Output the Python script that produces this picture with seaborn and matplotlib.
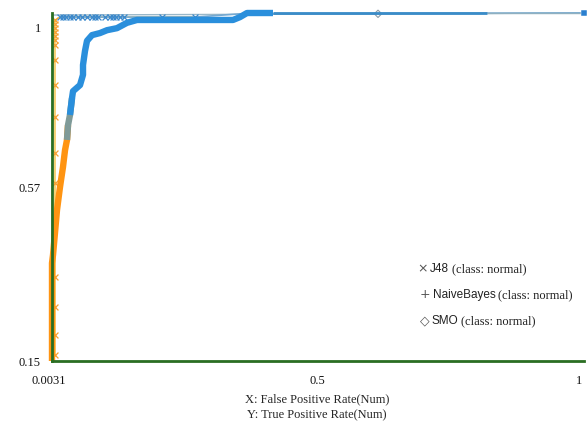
import numpy as np
import pandas as pd
import matplotlib
matplotlib.use("Agg")
import matplotlib.pyplot as plt
from matplotlib.transforms import ScaledTranslation
import seaborn as sns

# ---------------- data ----------------
# NaiveBayes ROC curve
nb_fpr = [0.0031, 0.0031, 0.0050, 0.0087, 0.0125, 0.0181, 0.0237, 0.0275, 0.0312, 0.0331,
          0.0368, 0.0406, 0.0425, 0.0556, 0.0612, 0.0612, 0.0649, 0.0687, 0.0781, 0.0930,
          0.1062, 0.1249, 0.1436, 0.1624, 0.3423, 0.3554, 0.3685, 0.4172, 0.8182, 1.0]
nb_tpr = [0.150, 0.389, 0.409, 0.463, 0.519, 0.575, 0.624, 0.665, 0.690, 0.726,
          0.751, 0.792, 0.809, 0.824, 0.849, 0.873, 0.907, 0.932, 0.946, 0.951,
          0.958, 0.963, 0.976, 0.983, 0.983, 0.990, 1.000, 1.000, 1.000, 1.000]

# J48 ROC curve
j48_fpr = [0.0031, 0.0087, 0.0087, 0.0087, 0.0087, 0.0087, 0.0087, 0.0087, 0.0087, 0.0087,
           0.0087, 0.0087, 0.0087, 0.0087, 0.0087, 0.0087, 0.0087, 0.0181, 0.0237, 0.0293,
           0.0368, 0.0425, 0.0518, 0.0593, 0.0687, 0.0781, 0.0837, 0.0893, 0.1024, 0.1118,
           0.1174, 0.1230, 0.1305, 0.1380, 0.2092, 0.2711, 0.3554, 1.0]
j48_tpr = [0.150, 0.165, 0.214, 0.282, 0.355, 0.585, 0.658, 0.746, 0.824, 0.885,
           0.922, 0.934, 0.944, 0.954, 0.963, 0.973, 0.983, 0.990, 0.990, 0.990,
           0.990, 0.990, 0.990, 0.990, 0.990, 0.990, 0.990, 0.990, 0.990, 0.990,
           0.990, 0.990, 0.990, 0.990, 0.990, 0.990, 0.998, 1.000]

# SMO ROC curve
smo_fpr = [0.0031, 0.0040, 0.614, 1.0]
smo_tpr = [0.150, 0.995, 0.998, 1.000]

x_ticks = [0.0031, 0.5, 1.0]
x_tick_labels = ["0.0031", "0.5", "1"]
y_ticks = [0.15, 0.575, 1.0]
y_tick_labels = ["0.15", "0.57", "1"]

legend_names = ["J48", "NaiveBayes", "SMO"]
legend_marks = ["\u00d7", "+", "\u25c7"]
legend_suffix = "(class: normal)"
x_title = "X: False Positive Rate(Num)"
y_title = "Y: True Positive Rate(Num)"

# ---------------- style ----------------
sns.set_style("white")
plt.rcParams["font.family"] = ["Liberation Serif", "DejaVu Serif"]

BLUE = "#2a8fdc"
ORANGE = "#ff9412"
BLEND = "#7f9a98"
LIGHTBLUE = "#74a9d2"
GREEN_D = "#2a6e22"
GREEN_L = "#66cc44"

fig = plt.figure(figsize=(5.88, 4.25), dpi=100)
ax = fig.add_axes([52 / 588, 64 / 425, 532 / 588, 348 / 425])

nb = pd.DataFrame({"fpr": nb_fpr, "tpr": nb_tpr})
j48 = pd.DataFrame({"fpr": j48_fpr, "tpr": j48_tpr})
smo = pd.DataFrame({"fpr": smo_fpr, "tpr": smo_tpr})

def line(df, color, lw, z=2):
    sns.lineplot(data=df, x="fpr", y="tpr", sort=False, estimator=None,
                 color=color, lw=lw, ax=ax, clip_on=False, zorder=z,
                 solid_capstyle="butt")

# SMO (thin grey line + diamond)
line(smo, "#9ab8c8", 1.0, z=2)
sns.scatterplot(data=smo.iloc[[2]], x="fpr", y="tpr", marker="D", s=14,
                facecolor="none", edgecolor="#8a9aa6", linewidth=0.8, ax=ax,
                clip_on=False, zorder=3)

# J48 (thin line + x markers, orange on the left, blue along the top)
j_left = j48[j48.tpr < 0.99]
j_top = j48[j48.tpr >= 0.99]
line(j48[j48.tpr <= 0.99], "#f2c040", 1.0, z=2)
line(j_top, LIGHTBLUE, 1.2, z=2)
sns.scatterplot(data=j_left.iloc[1:], x="fpr", y="tpr", marker="x", s=18,
                color="#f5a030", linewidth=0.9, ax=ax, clip_on=False, zorder=4)
sns.scatterplot(data=j_top.iloc[:-2], x="fpr", y="tpr", marker="x", s=18,
                color="#3a88cc", linewidth=0.9, ax=ax, clip_on=False, zorder=4)

# NaiveBayes (dense thick curve coloured by threshold)
line(nb[nb.tpr <= 0.726], ORANGE, 4.6, z=5)
line(nb[(nb.tpr >= 0.690) & (nb.tpr <= 0.792)], BLEND, 4.6, z=5)
line(nb[(nb.tpr >= 0.751) & (nb.fpr <= 0.4172)], BLUE, 4.6, z=5)
line(nb[(nb.fpr >= 0.4172) & (nb.fpr <= 0.8182)], "#3a8cc8", 2.0, z=3)
line(nb[nb.fpr >= 0.8182], "#8fb0c0", 1.0, z=3)
sns.scatterplot(data=nb.iloc[[-1]], x="fpr", y="tpr", marker="s", s=16,
                color="#2a7fcf", ax=ax, clip_on=False, zorder=6)

# ---------------- axes ----------------
ax.set_xlim(x_ticks[0], x_ticks[-1])
ax.set_ylim(y_ticks[0], y_ticks[-1])
ax.set_xticks(x_ticks, x_tick_labels)
ax.set_yticks(y_ticks, y_tick_labels)
ax.set_xlabel("")
ax.set_ylabel("")
ax.tick_params(axis="both", length=5, width=1.5, color=GREEN_L, labelsize=9,
               labelcolor="#111111")
ax.tick_params(axis="x", pad=5)
ax.tick_params(axis="y", pad=3)
for s in ["top", "right"]:
    ax.spines[s].set_visible(False)
for s in ["left", "bottom"]:
    ax.spines[s].set_color(GREEN_D)
    ax.spines[s].set_linewidth(2)
    ax.spines[s].set_zorder(7)

ylabs = ax.get_yticklabels()
ylabs[-1].set_transform(ylabs[-1].get_transform() +
                        ScaledTranslation(0, -0.14, fig.dpi_scale_trans))
xlabs = ax.get_xticklabels()
xlabs[0].set_transform(xlabs[0].get_transform() +
                       ScaledTranslation(-0.03, 0, fig.dpi_scale_trans))
xlabs[-1].set_transform(xlabs[-1].get_transform() +
                        ScaledTranslation(-0.05, 0, fig.dpi_scale_trans))

# axis titles
fig.text(317 / 588, 1 - 399 / 425, x_title, ha="center", va="center", fontsize=9)
fig.text(317 / 588, 1 - 415 / 425, y_title, ha="center", va="center", fontsize=9)

# legend (Weka style: sans names, serif suffix), all on a common baseline
leg_y = [272, 298, 324]
leg_x = [417, 420, 420]
renderer = fig.canvas.get_renderer()
for mk, name, ly, lx in zip(legend_marks, legend_names, leg_y, leg_x):
    yb = 1 - ly / 425
    t0 = fig.text(lx / 588, yb, mk, ha="left", va="baseline",
                  fontsize=9, color="#555555", family=["DejaVu Sans"])
    x1 = t0.get_window_extent(renderer).x1 + 2
    t1 = fig.text(x1 / 588, yb, name, ha="left", va="baseline",
                  fontsize=8.5, color="#222222", family=["Liberation Sans"])
    x2 = t1.get_window_extent(renderer).x1 + 3
    fig.text(x2 / 588, yb, legend_suffix, ha="left", va="baseline",
             fontsize=9, color="#222222", family=["Liberation Serif"])

fig.savefig("out.png", dpi=100)
